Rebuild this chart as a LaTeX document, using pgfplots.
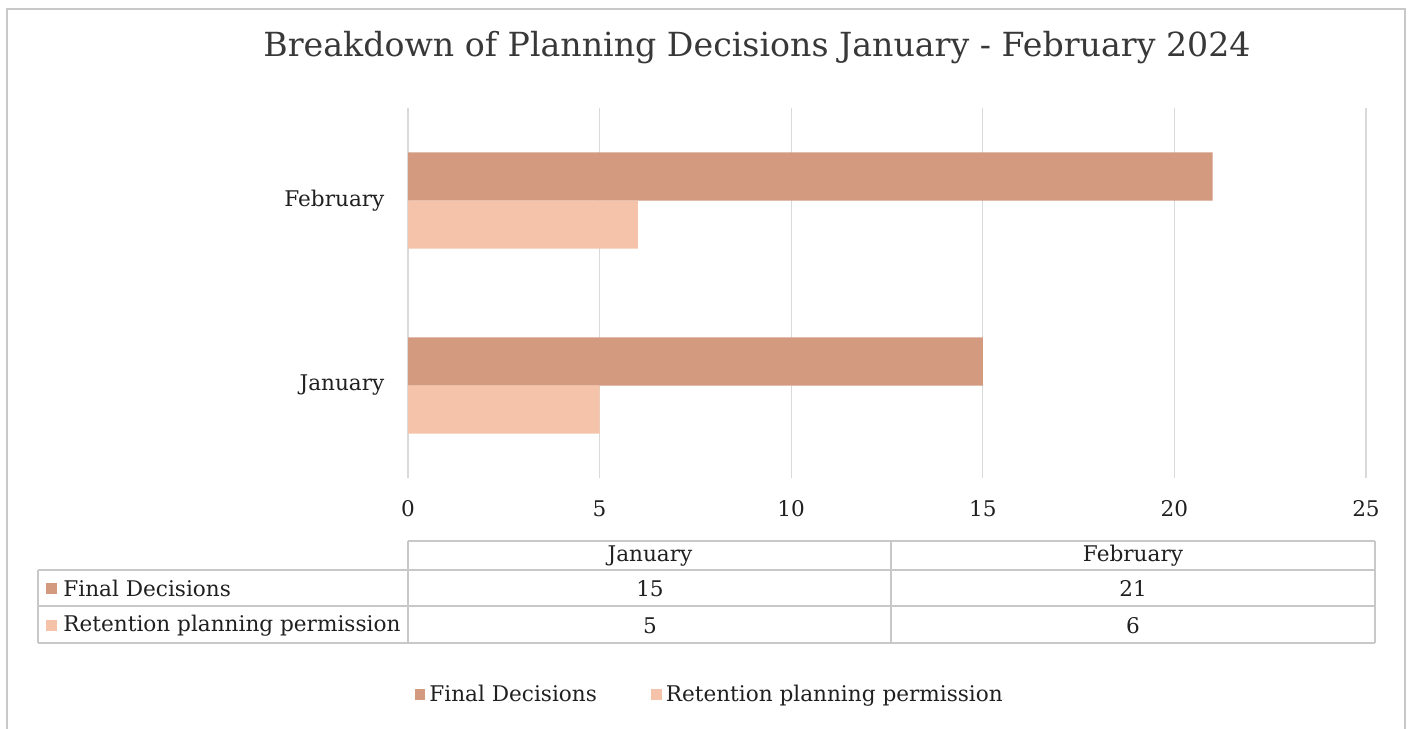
\documentclass[border=0pt]{standalone}
\usepackage{pgfplots}
\pgfplotsset{compat=1.18}
\usepackage{fontspec}
\setmainfont{DejaVu Serif}
\definecolor{finalc}{HTML}{D49A80}
\definecolor{retc}{HTML}{F4C3A9}
\definecolor{gridc}{HTML}{D9D9D9}
\definecolor{linec}{HTML}{C8C8C8}
\definecolor{txt}{HTML}{202020}
\definecolor{ttl}{HTML}{383838}
\begin{document}
\begin{tikzpicture}
\useasboundingbox (0,0) rectangle (705pt,-364.5pt);
\begin{scope}[x=0.5pt,y=-0.5pt]
  % outer border
  \draw[linec, line width=0.6pt] (7,740) -- (7,9) -- (1405,9) -- (1405,740);
  % title
  \node[text=ttl, font=\fontsize{16.6}{19}\selectfont] at (757,48) {Breakdown of Planning Decisions January - February 2024};
  % data table
  \begin{scope}[linec, line width=0.6pt]
    \draw (408,541) -- (1375,541);
    \draw (38,570) -- (1375,570);
    \draw (38,606) -- (1375,606);
    \draw (38,643) -- (1375,643);
    \draw (38,570) -- (38,643);
    \draw (408,541) -- (408,643);
    \draw (891,541) -- (891,643);
    \draw (1375,541) -- (1375,643);
  \end{scope}
  \begin{scope}[text=txt, font=\fontsize{10.8}{13}\selectfont]
    \node at (650,556) {January};
    \node at (1133,556) {February};
    \fill[finalc] (46,583) rectangle (57,594);
    \node[anchor=west, inner sep=0pt] at (63,588.5) {Final Decisions};
    \node at (650,588.5) {15};
    \node at (1133,588.5) {21};
    \fill[retc] (46,620) rectangle (57,631);
    \node[anchor=west, inner sep=0pt] at (63,625.5) {Retention planning permission};
    \node at (650,625.5) {5};
    \node at (1133,625.5) {6};
  \end{scope}
\end{scope}
\begin{axis}[
  at={(204pt,-239pt)}, anchor=south west,
  scale only axis, width=479pt, height=185pt,
  xmin=0, xmax=25, ymin=-0.5, ymax=1.5,
  axis lines=left,
  axis line style={-, draw=gridc, line width=0.8pt},
  x axis line style={draw=none},
  xtick={0,5,...,25},
  xmajorgrids, grid style={draw=gridc, line width=0.6pt},
  xtick style={draw=none},
  xticklabel style={yshift=-5.5pt},
  ytick={0,1}, yticklabels={January,February},
  ytick style={draw=none},
  yticklabel style={xshift=-4pt},
  extra y ticks={-0.5,0.5,1.5}, extra y tick labels={},
  extra y tick style={major tick length=4pt, tick style={draw=gridc, line width=0.8pt}, ymajorgrids=false, tick align=outside},
  ticklabel style={font=\fontsize{10.8}{13}\selectfont, text=txt},
  /pgf/number format/assume math mode=true,
  xbar, bar width=0.26,
  legend columns=2,
  legend style={at={(0.316,-0.586)}, anchor=center, draw=none, font=\fontsize{10.8}{13}\selectfont, text=txt,
    /tikz/every even column/.append style={column sep=25pt}},
  legend image code/.code={\fill[#1] (0pt,-2.6pt) rectangle (5.4pt,2.8pt);},
]
\addplot[fill=finalc, draw=none, bar shift=0.13] coordinates {(15,0) (21,1)};
\addlegendentry{Final Decisions}
\addplot[fill=retc, draw=none, bar shift=-0.13] coordinates {(5,0) (6,1)};
\addlegendentry{Retention planning permission}
\end{axis}
\end{tikzpicture}
\end{document}
